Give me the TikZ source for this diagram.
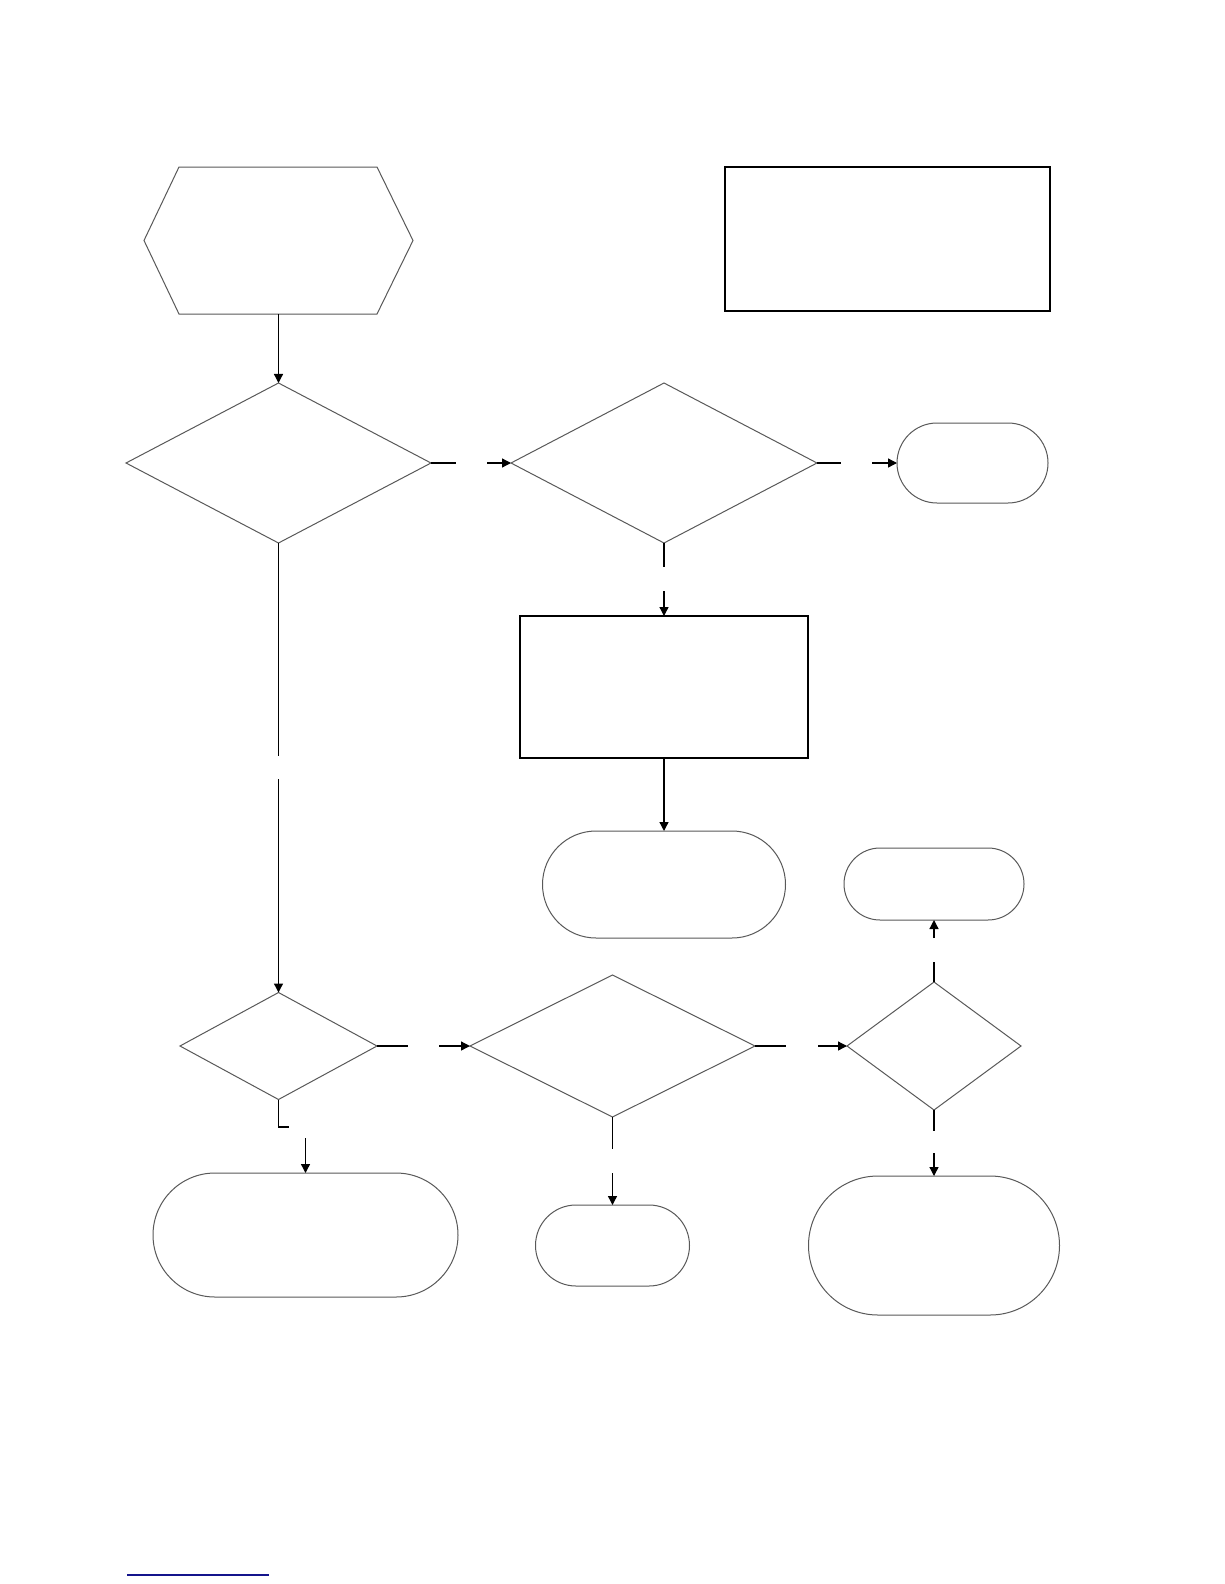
\documentclass[tikz,border=0pt]{standalone}
\usepackage{xcolor}
\usepackage{tikz}
\usetikzlibrary{arrows.meta,positioning,shapes.geometric,shapes.misc,calc}
\definecolor{linkblue}{RGB}{20,20,140}
\tikzset{
  flowhex/.style    = {draw=black!65, line width=1pt, line join=miter},
  flowhold/.style   = {rectangle, draw=none, inner sep=0pt, outer sep=0pt},
  flowdec/.style    = {diamond, draw=black!65, line width=1pt, inner sep=0pt,
                       outer sep=0pt},
  flowterm/.style   = {rounded rectangle, draw=black!65, line width=1pt,
                       inner sep=0pt, outer sep=0pt},
  flowproc/.style   = {rectangle, draw=black, line width=1.6pt, inner sep=0pt,
                       outer sep=0pt},
  flowline/.style   = {draw=black, line width=1.3pt},
  flowarr/.style    = {-{Triangle[length=9pt,width=9pt]}, draw=black, line width=1.3pt},
}

\begin{document}
\begin{tikzpicture}[x=1pt,y=-1pt]
  \useasboundingbox[fill=white] (0,0) rectangle (1224,1584);

  \node[flowhold, minimum width=269pt, minimum height=147pt] (start) at (278.5,240.5) {};
  \draw[flowhex] (start.west) -- ($(start.north west)+(35,0)$) -- ($(start.north east)+(-36,0)$)
    -- (start.east) -- ($(start.south east)+(-36,0)$) -- ($(start.south west)+(35,0)$) -- cycle;
  \node[flowproc, minimum width=325pt, minimum height=144pt] (note) at (887.5,239) {};

  \node[flowdec, minimum width=305pt, minimum height=160pt] (dec1) at (278.5,463) {};
  \node[flowdec, minimum width=306pt, minimum height=160pt] (dec2) at (664,463) {};
  \node[flowterm, minimum width=151pt, minimum height=80pt] (endA) at (972.5,463) {};
  \node[flowproc, minimum width=288pt, minimum height=142pt] (proc) at (664,687) {};
  \node[flowterm, minimum width=243pt, minimum height=107pt] (endB) at (664,884.5) {};
  \node[flowterm, minimum width=180pt, minimum height=72pt] (endC) at (934,884) {};

  \node[flowdec, minimum width=197pt, minimum height=107pt] (dec3) at (278.5,1046) {};
  \node[flowdec, minimum width=285pt, minimum height=142pt] (dec4) at (612.5,1046) {};
  \node[flowdec, minimum width=174pt, minimum height=128pt] (dec5) at (934,1046) {};
  \node[flowterm, minimum width=305pt, minimum height=124pt] (endF) at (305.5,1235) {};
  \node[flowterm, minimum width=154pt, minimum height=81pt] (endD) at (612.5,1245.5) {};
  \node[flowterm, minimum width=251pt, minimum height=139pt] (endE) at (934,1245.5) {};

  % broken connector ends
  \coordinate (g1a) at (456,463);   \coordinate (g1b) at (487,463);
  \coordinate (g2a) at (841,463);   \coordinate (g2b) at (872,463);
  \coordinate (g3a) at (664,567);   \coordinate (g3b) at (664,591);
  \coordinate (g4a) at (278.5,756); \coordinate (g4b) at (278.5,779);
  \coordinate (g5a) at (408,1046);  \coordinate (g5b) at (439,1046);
  \coordinate (g6a) at (786,1046);  \coordinate (g6b) at (818,1046);
  \coordinate (g7a) at (934,962);   \coordinate (g7b) at (934,938);
  \coordinate (g8a) at (934,1131);  \coordinate (g8b) at (934,1153);
  \coordinate (g9a) at (612.5,1149);\coordinate (g9b) at (612.5,1173);
  \coordinate (g10a) at (289,1127); \coordinate (g10b) at (305.5,1138);

  \draw[flowarr]  (start) -- (dec1);
  \draw[flowline] (dec1.east) -- (g1a);
  \draw[flowarr]  (g1b) -- (dec2.west);
  \draw[flowline] (dec2.east) -- (g2a);
  \draw[flowarr]  (g2b) -- (endA.west);
  \draw[flowline] (dec2.south) -- (g3a);
  \draw[flowarr]  (g3b) -- (proc.north);
  \draw[flowarr]  (proc) -- (endB);
  \draw[flowline] (dec1.south) -- (g4a);
  \draw[flowarr]  (g4b) -- (dec3.north);
  \draw[flowline] (dec3.east) -- (g5a);
  \draw[flowarr]  (g5b) -- (dec4.west);
  \draw[flowline] (dec4.east) -- (g6a);
  \draw[flowarr]  (g6b) -- (dec5.west);
  \draw[flowline] (dec5.north) -- (g7a);
  \draw[flowarr]  (g7b) -- (endC.south);
  \draw[flowline] (dec5.south) -- (g8a);
  \draw[flowarr]  (g8b) -- (endE.north);
  \draw[flowline] (dec4.south) -- (g9a);
  \draw[flowarr]  (g9b) -- (endD.north);
  \draw[flowline] (dec3.south) |- (g10a);
  \draw[flowarr]  (g10b) -- (g10b |- endF.north);

  \draw[draw=linkblue, line width=1.3pt] (127,1575) -- (269,1575);
\end{tikzpicture}
\end{document}
